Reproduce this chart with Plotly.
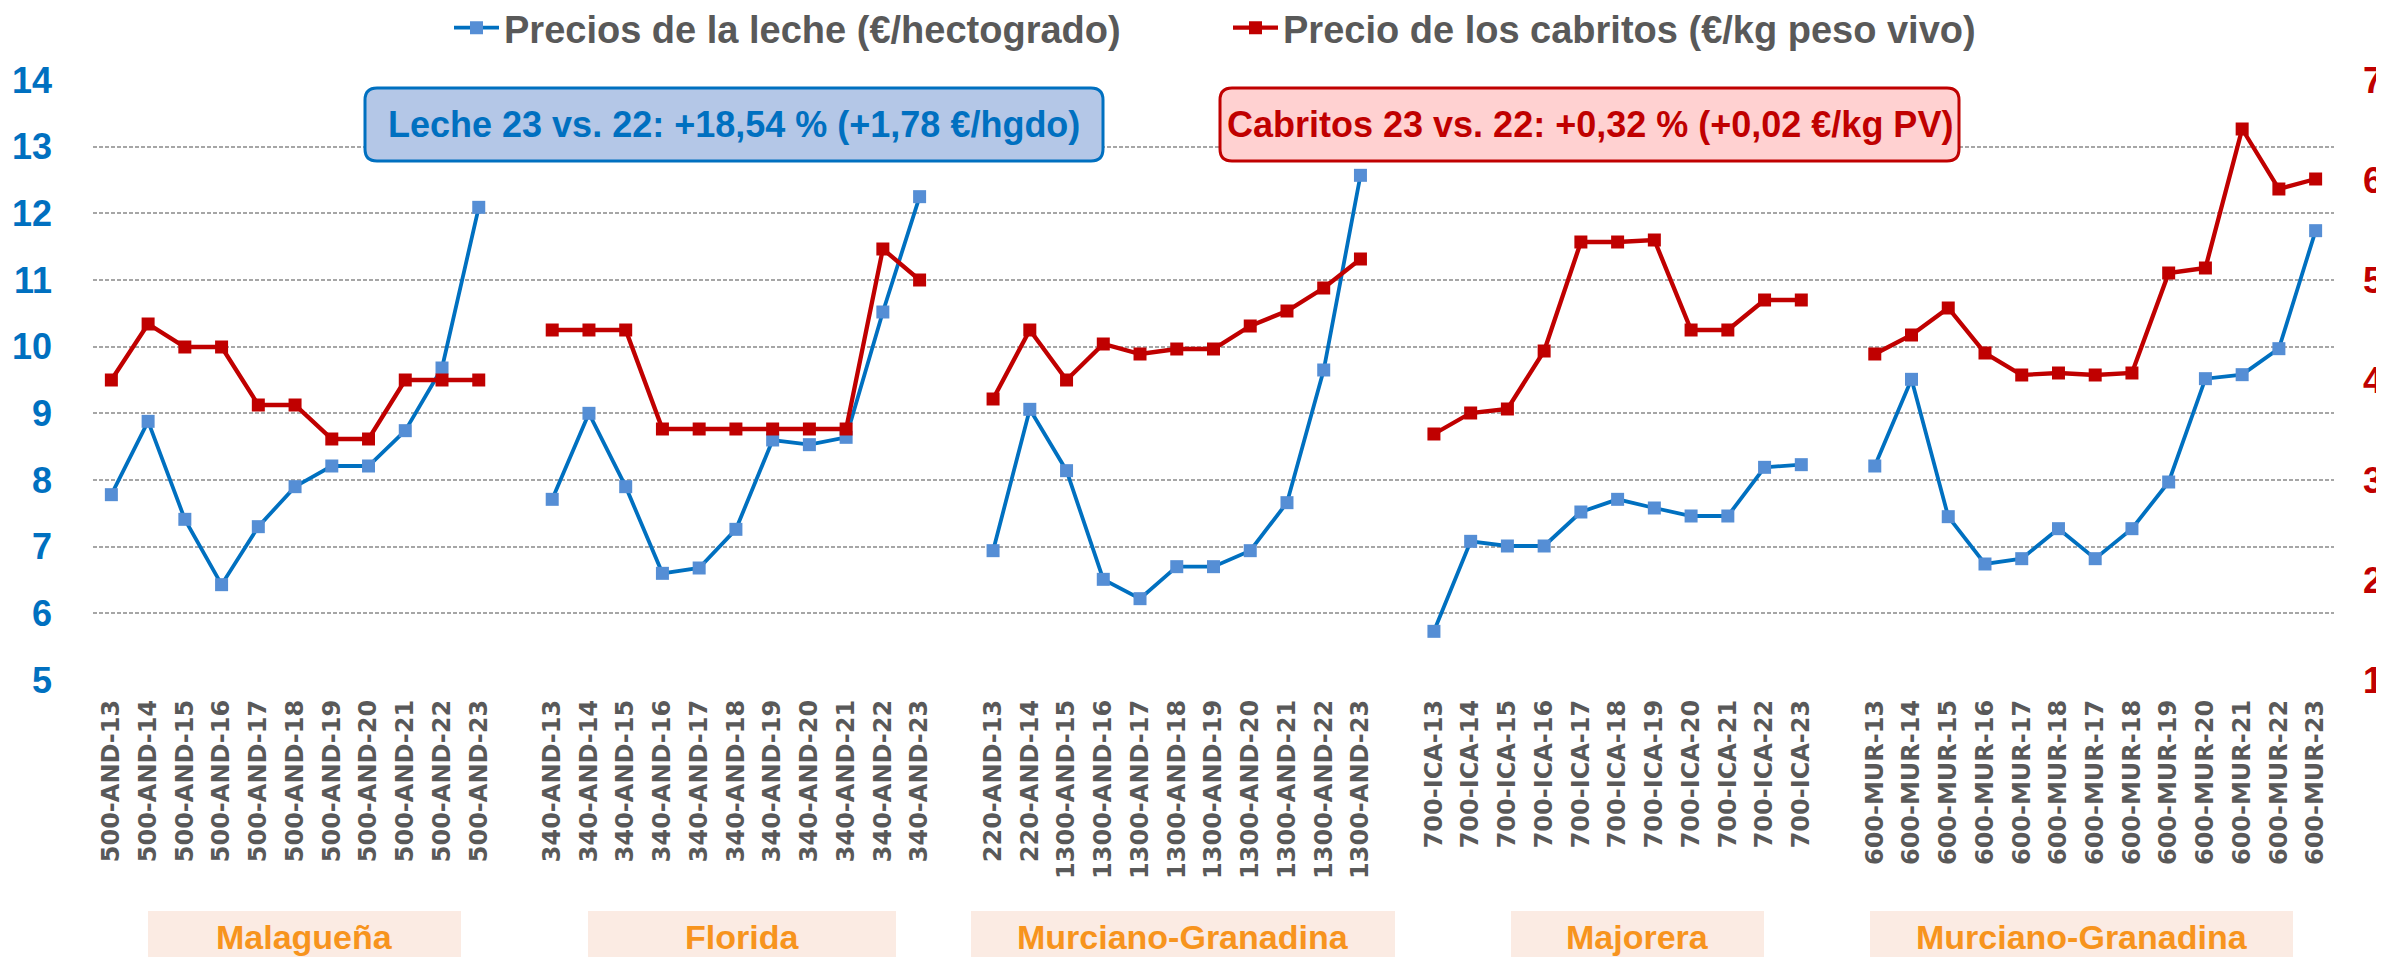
import plotly.graph_objects as go

# ---------------- data ----------------
groups = ["Malagueña", "Florida", "Murciano-Granadina", "Majorera", "Murciano-Granadina"]

labels_mal = ["500-AND-13", "500-AND-14", "500-AND-15", "500-AND-16", "500-AND-17", "500-AND-18",
              "500-AND-19", "500-AND-20", "500-AND-21", "500-AND-22", "500-AND-23"]
labels_flo = ["340-AND-13", "340-AND-14", "340-AND-15", "340-AND-16", "340-AND-17", "340-AND-18",
              "340-AND-19", "340-AND-20", "340-AND-21", "340-AND-22", "340-AND-23"]
labels_mgr = ["220-AND-13", "220-AND-14", "1300-AND-15", "1300-AND-16", "1300-AND-17", "1300-AND-18",
              "1300-AND-19", "1300-AND-20", "1300-AND-21", "1300-AND-22", "1300-AND-23"]
labels_maj = ["700-ICA-13", "700-ICA-14", "700-ICA-15", "700-ICA-16", "700-ICA-17", "700-ICA-18",
              "700-ICA-19", "700-ICA-20", "700-ICA-21", "700-ICA-22", "700-ICA-23"]
labels_mur = ["600-MUR-13", "600-MUR-14", "600-MUR-15", "600-MUR-16", "600-MUR-17", "600-MUR-18",
              "600-MUR-17", "600-MUR-18", "600-MUR-19", "600-MUR-20", "600-MUR-21", "600-MUR-22",
              "600-MUR-23"]

leche_mal = [7.78, 8.88, 7.41, 6.43, 7.30, 7.90, 8.21, 8.21, 8.74, 9.68, 12.09]
leche_flo = [7.71, 9.00, 7.90, 6.60, 6.68, 7.26, 8.60, 8.53, 8.64, 10.52, 12.25]
leche_mgr = [6.94, 9.06, 8.14, 6.51, 6.22, 6.70, 6.70, 6.94, 7.66, 9.65, 12.57]
leche_maj = [5.73, 7.08, 7.01, 7.01, 7.52, 7.71, 7.58, 7.46, 7.46, 8.19, 8.23]
leche_mur = [8.21, 9.51, 7.45, 6.74, 6.82, 7.27, 6.82, 7.27, 7.97, 9.52, 9.58, 9.97, 11.74]

cabritos_mal = [4.00, 4.56, 4.33, 4.33, 3.75, 3.75, 3.41, 3.41, 4.00, 4.00, 4.00]
cabritos_flo = [4.50, 4.50, 4.50, 3.51, 3.51, 3.51, 3.51, 3.51, 3.51, 5.31, 5.00]
cabritos_mgr = [3.81, 4.50, 4.00, 4.36, 4.26, 4.31, 4.31, 4.54, 4.69, 4.92, 5.21]
cabritos_maj = [3.46, 3.67, 3.71, 4.29, 5.38, 5.38, 5.40, 4.50, 4.50, 4.80, 4.80]
cabritos_mur = [4.26, 4.45, 4.72, 4.27, 4.05, 4.07, 4.05, 4.07, 5.07, 5.12, 6.51, 5.91, 6.01]

y_left_ticks = [5, 6, 7, 8, 9, 10, 11, 12, 13, 14]
y_right_ticks = [1, 2, 3, 4, 5, 6, 7]

txt_leche = "Leche 23 vs. 22: +18,54 % (+1,78 €/hgdo)"
txt_cabritos = "Cabritos 23 vs. 22: +0,32 % (+0,02 €/kg PV)"
name_leche = "Precios de la leche (€/hectogrado)"
name_cabritos = "Precio de los cabritos (€/kg peso vivo)"

# ---------------- assemble with one blank slot between groups ----------------
all_labels = [labels_mal, labels_flo, labels_mgr, labels_maj, labels_mur]
all_leche = [leche_mal, leche_flo, leche_mgr, leche_maj, leche_mur]
all_cab = [cabritos_mal, cabritos_flo, cabritos_mgr, cabritos_maj, cabritos_mur]

xs, ys_l, ys_c, tickvals, ticktext = [], [], [], [], []
pos = 0
for gi, (lab, le, ca) in enumerate(zip(all_labels, all_leche, all_cab)):
    for l, a, b in zip(lab, le, ca):
        xs.append(pos); ys_l.append(a); ys_c.append(b)
        tickvals.append(pos); ticktext.append(l)
        pos += 1
    if gi < len(all_labels) - 1:
        xs.append(pos); ys_l.append(None); ys_c.append(None)
        pos += 1
n_slots = pos

# ---------------- layout geometry ----------------
W, H = 2384, 957
ML, MR, MT, MB = 85, 58, 72, 285
PW, PH = W - ML - MR, H - MT - MB

def px(x):
    return (x - ML) / PW

def py(y):
    return (H - MB - y) / PH

def rrect(x0, y0, x1, y1, r):
    rx, ry = r / PW, r / PH
    X0, X1 = px(x0), px(x1)
    Y0, Y1 = py(y0), py(y1)  # Y0 top, Y1 bottom
    return (f"M {X0+rx},{Y0} L {X1-rx},{Y0} Q {X1},{Y0} {X1},{Y0-ry} "
            f"L {X1},{Y1+ry} Q {X1},{Y1} {X1-rx},{Y1} L {X0+rx},{Y1} "
            f"Q {X0},{Y1} {X0},{Y1+ry} L {X0},{Y0-ry} Q {X0},{Y0} {X0+rx},{Y0} Z")

BLUE = "#0070C0"
BLUE_M = "#558ED5"
RED = "#C00000"
GRAY = "#595959"
FONT = "Liberation Sans, Arial, sans-serif"

fig = go.Figure()
fig.add_trace(go.Scatter(
    x=xs, y=ys_l, name=name_leche, mode="lines+markers",
    line=dict(color=BLUE, width=3.8),
    marker=dict(symbol="square", size=13, color=BLUE_M),
    connectgaps=False,
))
fig.add_trace(go.Scatter(
    x=xs, y=ys_c, name=name_cabritos, mode="lines+markers", yaxis="y2",
    line=dict(color=RED, width=4.3),
    marker=dict(symbol="square", size=13, color=RED),
    connectgaps=False,
))

shapes = [
    dict(type="path", xref="paper", yref="paper", path=rrect(357, 80, 1095, 153, 12),
         fillcolor="#B4C7E7", line=dict(color=BLUE, width=3), layer="above"),
    dict(type="path", xref="paper", yref="paper", path=rrect(1212, 80, 1951, 153, 12),
         fillcolor="#FFD1D1", line=dict(color=RED, width=3), layer="above"),
]
annotations = [
    dict(x=px((357 + 1095) / 2), y=py(117), xref="paper", yref="paper", text=txt_leche,
         xanchor="center", yanchor="middle", showarrow=False,
         font=dict(family=FONT, size=36, color=BLUE, weight="bold")),
    dict(x=px((1212 + 1951) / 2), y=py(117), xref="paper", yref="paper", text=txt_cabritos,
         xanchor="center", yanchor="middle", showarrow=False,
         font=dict(family=FONT, size=36, color=RED, weight="bold")),
]

group_boxes = [(140, 453), (580, 888), (963, 1387), (1503, 1756), (1862, 2285)]
for g, (bx0, bx1) in zip(groups, group_boxes):
    shapes.append(dict(type="rect", xref="paper", yref="paper",
                       x0=px(bx0), x1=px(bx1), y0=py(960), y1=py(903),
                       fillcolor="#FBEBE3", line=dict(width=0), layer="below"))
    annotations.append(dict(x=px((bx0 + bx1) / 2), y=py(929), xref="paper", yref="paper",
                            text=g, showarrow=False, xanchor="center", yanchor="middle",
                            font=dict(family=FONT, size=34, color="#F7941D", weight="bold")))

fig.update_layout(
    width=W, height=H,
    margin=dict(l=ML, r=MR, t=MT, b=MB, pad=0, autoexpand=False),
    paper_bgcolor="white", plot_bgcolor="white",
    showlegend=True,
    legend=dict(orientation="h", xref="container", yref="container",
                x=441 / W, xanchor="left", y=1 - 20 / H, yanchor="middle",
                font=dict(family=FONT, size=38, color=GRAY, weight="bold"),
                entrywidth=719, entrywidthmode="pixels",
                bgcolor="rgba(0,0,0,0)", itemwidth=45),
    xaxis=dict(range=[-0.5, n_slots - 0.5], tickvals=tickvals, ticktext=ticktext,
               tickangle=-90, showgrid=False, zeroline=False, showline=False,
               ticks="", ticklabelstandoff=14,
               tickfont=dict(family="DejaVu Sans", size=24, color=GRAY, weight="bold")),
    yaxis=dict(range=[5, 14], tickvals=y_left_ticks, showgrid=True,
               gridcolor="#A6A6A6", gridwidth=1.5, griddash="4px,2px",
               zeroline=False, showline=False, ticks="", ticklabelstandoff=40,
               tickfont=dict(family=FONT, size=36, color=BLUE, weight="bold")),
    yaxis2=dict(range=[1, 7], tickvals=y_right_ticks, overlaying="y", side="right",
                showgrid=False, zeroline=False, showline=False, ticks="",
                ticklabelstandoff=28,
                tickfont=dict(family=FONT, size=36, color=RED, weight="bold")),
    shapes=shapes,
    annotations=annotations,
)

fig.write_html("out.html")
